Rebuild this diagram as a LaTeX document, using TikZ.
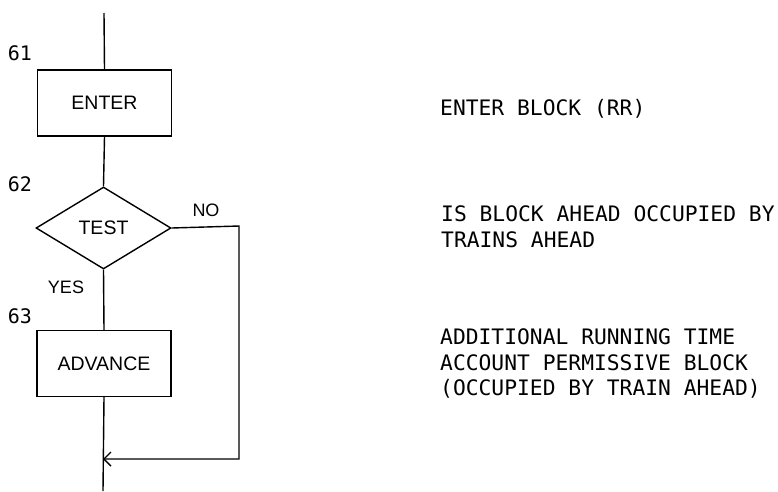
\documentclass[tikz,border=0pt]{standalone}
\usepackage{fontspec}
\setmainfont{Liberation Sans}
\newfontfamily\monof{DejaVu Sans Mono}
\usetikzlibrary{shapes.geometric,arrows.meta}
\tikzset{
  flow/.style={line width=1.4pt},
  procbox/.style={draw, line width=1.4pt, minimum width=134pt, minimum height=66pt, inner sep=0pt, font=\fontsize{19.5}{22}\selectfont},
  testbox/.style={draw, diamond, line width=1.4pt, minimum width=135pt, minimum height=82pt, inner sep=0pt, font=\fontsize{19.5}{22}\selectfont},
  numlabel/.style={font=\monof\fontsize{20}{22}\selectfont, inner sep=0pt},
  branchlabel/.style={font=\fontsize{18}{20}\selectfont, inner sep=0pt},
  note/.style={font=\monof\fontsize{21.3}{25.5}\selectfont, align=left, anchor=west, inner sep=0pt},
  barb/.style={-{Straight Barb[length=7pt,width=14pt,line width=1.4pt]}}
}
\begin{document}
\begin{tikzpicture}[x=1pt,y=-1pt]
\useasboundingbox (0,0) rectangle (778,491);
\coordinate (top) at (104,13);
\node[procbox] (enter) at (104.5,103) {ENTER};
\node[testbox] (test) at (103.5,228) {TEST};
\node[procbox] (advance) at (104,363.5) {ADVANCE};
\coordinate (c1) at (239,226);
\coordinate (c2) at (239,459);
\coordinate (join) at (103,459);
\coordinate (bottom) at (103,491);

\draw[flow] (top) -- (enter.north);
\draw[flow] (enter.south) -- (test.north);
\draw[flow] (test.south) -- (advance.north);
\draw[flow] (advance.south) -- (bottom);
\draw[flow,barb] (test.east) -- (c1) -- (c2) -- (join);

\node[numlabel] (n61) at (20,53) {61};
\node[numlabel] (n62) at (20,184) {62};
\node[numlabel] (n63) at (20,316) {63};
\node[branchlabel] (no) at (206,210) {NO};
\node[branchlabel] (yes) at (66,287) {YES};

\node[note] (t1) at (440,109) {ENTER BLOCK (RR)};
\node[note] (t2) at (441,226.5) {IS BLOCK AHEAD OCCUPIED BY\\TRAINS AHEAD};
\node[note] (t3) at (440,363.5) {ADDITIONAL RUNNING TIME\\ACCOUNT PERMISSIVE BLOCK\\(OCCUPIED BY TRAIN AHEAD)};
\end{tikzpicture}
\end{document}
